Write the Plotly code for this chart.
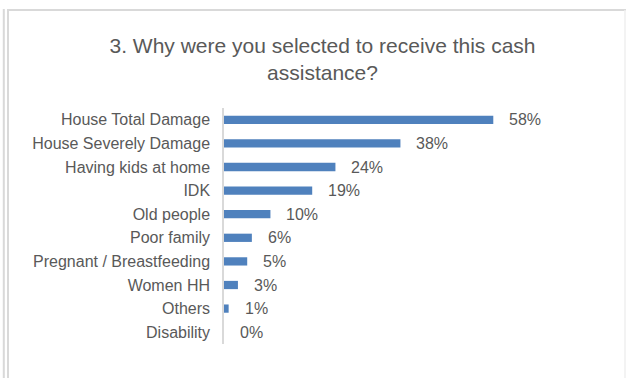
import plotly.graph_objects as go

categories = ["House Total Damage", "House Severely Damage", "Having kids at home", "IDK",
              "Old people", "Poor family", "Pregnant / Breastfeeding", "Women HH", "Others", "Disability"]
values = [58, 38, 24, 19, 10, 6, 5, 3, 1, 0]
value_labels = ["58%", "38%", "24%", "19%", "10%", "6%", "5%", "3%", "1%", "0%"]
title_text = "3. Why were you selected to receive this cash<br>assistance?"

W, H = 626, 378
L, R, T, B = 224, 77, 108, 34
PW, PH = W - L - R, H - T - B

def px(x):
    return (x - L) / PW

def py(y):
    return (H - B - y) / PH

GREY = "#595959"
FONT = "Liberation Sans, Arial, sans-serif"

fig = go.Figure(go.Bar(
    x=values, y=categories, orientation="h",
    marker=dict(color="#4F81BD", line=dict(width=0)),
    width=0.35, hoverinfo="skip",
))

for v, c, t in zip(values, categories, value_labels):
    fig.add_annotation(x=v, y=c, text=t, showarrow=False, xanchor="left", yanchor="middle",
                       xshift=14, font=dict(size=16, color=GREY, family=FONT))

fig.update_layout(
    width=W, height=H,
    margin=dict(l=L, r=R, t=T, b=B, pad=0),
    paper_bgcolor="white", plot_bgcolor="white",
    showlegend=False,
    title=dict(text=title_text, x=322.5 / W, xanchor="center", xref="container",
               yref="container", y=1 - 53 / H, yanchor="top",
               font=dict(size=21, color=GREY, family=FONT)),
    xaxis=dict(range=[0, 70], showgrid=False, zeroline=False, showticklabels=False,
               showline=False, ticks="", fixedrange=True),
    yaxis=dict(autorange="reversed", showgrid=False, zeroline=False,
               showline=True, linecolor="#d9d9d9", linewidth=1.5,
               ticks="", ticklabelstandoff=9,
               tickfont=dict(size=16, color=GREY, family=FONT)),
)

frame = "#d9d9d9"
shapes = [
    dict(x0=px(3.8), x1=px(3.8), y0=py(9), y1=py(H + 2), lw=2, c=frame),
    dict(x0=px(8), x1=px(8), y0=py(9.2), y1=py(H + 2), lw=2, c=frame),
    dict(x0=px(7), x1=px(W + 2), y0=py(10), y1=py(10), lw=2, c=frame),
    dict(x0=px(625), x1=px(625), y0=py(10), y1=py(H + 2), lw=1.5, c="#efefef"),
]
for s in shapes:
    fig.add_shape(type="line", xref="paper", yref="paper",
                  x0=s["x0"], x1=s["x1"], y0=s["y0"], y1=s["y1"],
                  line=dict(color=s["c"], width=s["lw"]), layer="above")

fig.write_html("out.html")
